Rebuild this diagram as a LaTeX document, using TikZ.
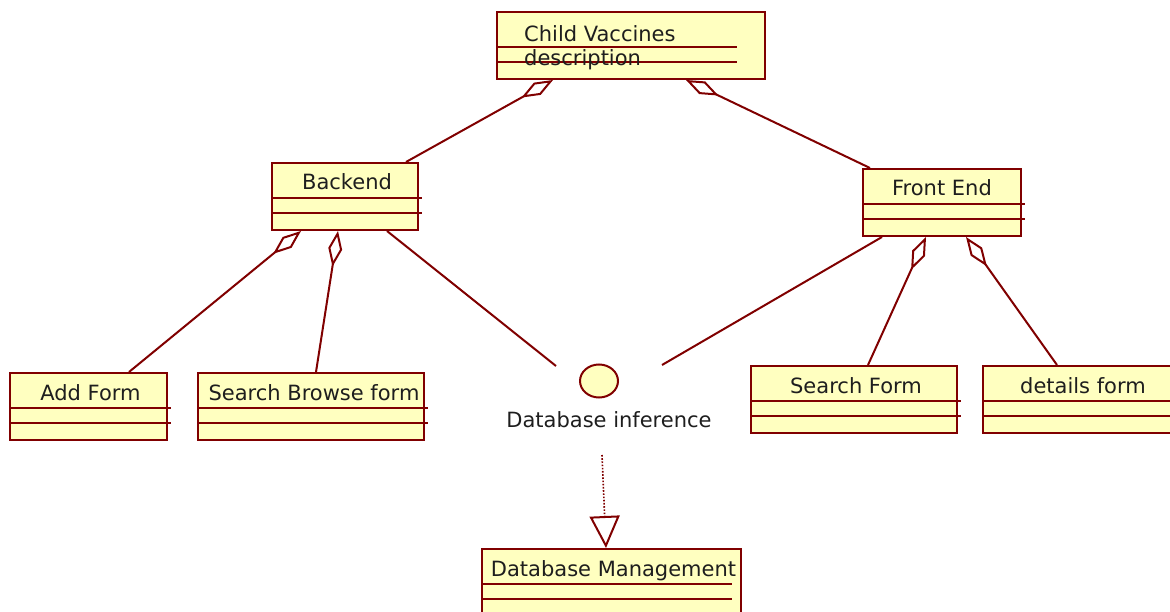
\documentclass[tikz,border=0pt]{standalone}
\usepackage{fontspec}
\setmainfont{DejaVu Sans}
\usetikzlibrary{arrows.meta,shapes.geometric}
\definecolor{umlred}{RGB}{128,0,0}
\definecolor{umlfill}{RGB}{255,255,192}
\definecolor{umltext}{RGB}{30,30,30}
\tikzset{
  umlclass/.style={rectangle, draw=umlred, fill=umlfill, line width=2pt, inner sep=0pt, minimum height=67pt, anchor=north west},
  classname/.style={anchor=base, text=umltext, inner sep=0pt, font=\fontsize{21}{24}\selectfont},
  compline/.style={draw=umlred, line width=2pt},
  aggr/.style={draw=umlred, line width=2pt, -{Diamond[open, length=36pt, width=14pt]}},
  realize/.style={draw=umlred, line width=1.6pt, dash pattern=on 1.6pt off 1.6pt, -{Triangle[open, length=32pt, width=30pt, line width=2pt]}}
}
\begin{document}
\begin{tikzpicture}[x=1pt, y=-1pt]
  \useasboundingbox (0,0) rectangle (1170,612);
  \clip (0,0) rectangle (1170,612);

  % classes
  \node[umlclass, minimum width=268pt] (cv) at (496,11) {};
  \node[umlclass, minimum width=146pt] (back) at (271,162) {};
  \node[umlclass, minimum width=158pt] (front) at (862,168) {};
  \node[umlclass, minimum width=157pt] (addf) at (9,372) {};
  \node[umlclass, minimum width=226pt] (sbrowse) at (197,372) {};
  \node[umlclass, minimum width=206pt] (sform) at (750,365) {};
  \node[umlclass, minimum width=200pt] (dform) at (982,365) {};
  \node[umlclass, minimum width=259pt] (dbm) at (481,548) {};

  % compartments
  \foreach \n/\w in {cv/241,dbm/251} {
    \draw[compline] ([yshift=-36]\n.north west) -- ([xshift=\w,yshift=-36]\n.north west);
    \draw[compline] ([yshift=-51]\n.north west) -- ([xshift=\w,yshift=-51]\n.north west);
  }
  \foreach \n in {back,front,addf,sbrowse,sform,dform} {
    \draw[compline] ([yshift=-36]\n.north west) -- ([xshift=3,yshift=-36]\n.north east);
    \draw[compline] ([yshift=-51]\n.north west) -- ([xshift=3,yshift=-51]\n.north east);
  }

  % names
  \node[classname, anchor=north west, align=left] (cvname) at ([xshift=28,yshift=-14]cv.north west) {Child Vaccines\\description};
  \node[classname] (backname) at ([xshift=2,yshift=-28]back.north) {Backend};
  \node[classname] (frontname) at ([yshift=-28]front.north) {Front End};
  \node[classname] (addfname) at ([xshift=2,yshift=-28]addf.north) {Add Form};
  \node[classname] (sbrowsename) at ([xshift=3,yshift=-28]sbrowse.north) {Search Browse form};
  \node[classname] (sformname) at ([xshift=2,yshift=-28]sform.north) {Search Form};
  \node[classname] (dformname) at ([yshift=-28]dform.north) {details form};
  \node[classname] (dbmname) at ([xshift=2,yshift=-28]dbm.north) {Database Management};

  % interface
  \node[ellipse, draw=umlred, fill=umlfill, line width=2pt, inner sep=0pt, minimum width=38pt, minimum height=33pt] (dbi) at (599,381) {};
  \node[classname] (dbilbl) at (609,427) {Database inference};
  \coordinate (dbiL) at (556,366);
  \coordinate (dbiR) at (662,365);

  % connectors
  \draw[aggr] ([xshift=135]back.north west) -- ([xshift=57]cv.south west);
  \draw[aggr] ([xshift=8]front.north west) -- ([xshift=190]cv.south west);
  \draw[aggr] ([xshift=120]addf.north west) -- ([xshift=30]back.south west);
  \draw[aggr] ([xshift=119]sbrowse.north west) -- ([xshift=67]back.south west);
  \draw[aggr] ([xshift=118]sform.north west) -- ([xshift=64]front.south west);
  \draw[aggr] ([xshift=75]dform.north west) -- ([xshift=104]front.south west);
  \draw[compline] ([xshift=116]back.south west) -- (dbiL);
  \draw[compline] ([xshift=20]front.south west) -- (dbiR);
  \draw[realize] ([xshift=-7,yshift=-28]dbilbl.base) -- ([xshift=-5.5]dbm.north);
\end{tikzpicture}
\end{document}
